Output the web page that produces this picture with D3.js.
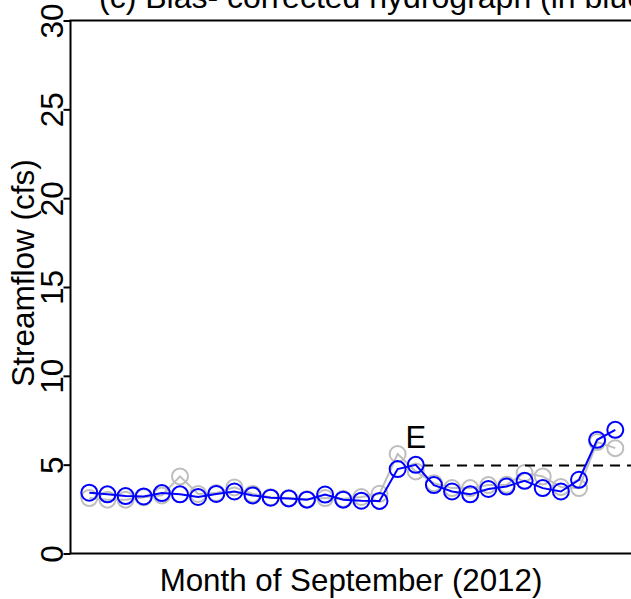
<!DOCTYPE html>
<html>
<head>
<meta charset="utf-8">
<script src="https://cdn.jsdelivr.net/npm/d3@7"></script>
<style>
  html, body { margin: 0; padding: 0; background: #fff; overflow: hidden; }
  svg { display: block; }
  text { font-family: "Liberation Sans", Arial, sans-serif; fill: #000; }
</style>
</head>
<body>
<div id="chart"></div>
<script>
// ---- data ----
const days = d3.range(1, 31);
const observed = [3.12, 3.03, 3.03, 3.16, 3.27, 4.34, 3.35, 3.40, 3.72, 3.35,
                  3.16, 3.12, 3.06, 3.12, 3.08, 3.18, 3.36, 5.60, 4.62, 3.96,
                  3.68, 3.68, 3.85, 3.87, 4.53, 4.34, 3.74, 3.68, 6.27, 5.93];
const corrected = [3.42, 3.33, 3.23, 3.21, 3.40, 3.33, 3.18, 3.35, 3.49, 3.27,
                   3.14, 3.10, 3.03, 3.32, 3.03, 2.97, 2.96, 4.75, 4.99, 3.85,
                   3.49, 3.33, 3.63, 3.77, 4.09, 3.68, 3.49, 4.15, 6.40, 6.96];
const yTicks = [0, 5, 10, 15, 20, 25, 30];
const eventLabel = "E";
const eventDay = 19;
const dashStartDay = 19.4;
const dashLevel = 4.95;
const titleText = "(c) Bias- corrected hydrograph (in blue)";
const xLabel = "Month of September (2012)";
const yLabel = "Streamflow (cfs)";

// ---- layout ----
const W = 631, H = 599;
const plotLeft = 70.5, plotTop = 20.5, plotBottom = 553.5, plotRight = 640;

const svg = d3.select("#chart").append("svg").attr("width", W).attr("height", H);

const x = d3.scaleLinear().domain([1, 30]).range([89.3, 615.3]);
const y = d3.scaleLinear().domain([0, 30]).range([plotBottom, plotTop]);

// title (clipped at top, as in the reference)
svg.append("text").attr("x", 99).attr("y", 7.5)
  .attr("font-size", 32).text(titleText);

// box (left, top, bottom)
svg.append("path")
  .attr("d", `M${plotRight},${plotTop}H${plotLeft}V${plotBottom}H${plotRight}`)
  .attr("fill", "none").attr("stroke", "#000").attr("stroke-width", 2);

// y axis ticks + labels
const yAxis = d3.axisLeft(y).tickValues(yTicks).tickSize(7).tickFormat(d3.format("d"));
const gy = svg.append("g").attr("transform", `translate(${plotLeft},0)`).call(yAxis);
gy.select(".domain").remove();
gy.selectAll(".tick line").attr("stroke", "#000").attr("stroke-width", 2);
gy.selectAll(".tick text").remove();
gy.selectAll(".tick").append("text")
  .attr("transform", "translate(-7.5,0) rotate(-90)")
  .attr("text-anchor", "middle")
  .attr("font-size", 31.5)
  .attr("fill", "#000")
  .text(d => d);

// axis titles
svg.append("text")
  .attr("transform", "translate(34,273) rotate(-90)")
  .attr("text-anchor", "middle").attr("font-size", 31.5).text(yLabel);
svg.append("text")
  .attr("x", 351).attr("y", 591)
  .attr("text-anchor", "middle").attr("font-size", 31.3).text(xLabel);

const line = d3.line().x(d => x(d[0])).y(d => y(d[1]));

// observed (gray)
const obs = days.map((d, i) => [d, observed[i]]);
svg.append("path").attr("d", line(obs))
  .attr("fill", "none").attr("stroke", "#bebebe").attr("stroke-width", 2);
svg.selectAll("circle.obs").data(obs).enter().append("circle")
  .attr("class", "obs")
  .attr("cx", d => x(d[0])).attr("cy", d => y(d[1])).attr("r", 8)
  .attr("fill", "none").attr("stroke", "#bebebe").attr("stroke-width", 2);

// dashed reference line
svg.append("line")
  .attr("x1", x(dashStartDay)).attr("x2", W)
  .attr("y1", y(dashLevel)).attr("y2", y(dashLevel))
  .attr("stroke", "#000").attr("stroke-width", 2)
  .attr("stroke-dasharray", "10,7");

// corrected (blue)
const cor = days.map((d, i) => [d, corrected[i]]);
svg.append("path").attr("d", line(cor))
  .attr("fill", "none").attr("stroke", "#0000ff").attr("stroke-width", 2);
svg.selectAll("circle.cor").data(cor).enter().append("circle")
  .attr("class", "cor")
  .attr("cx", d => x(d[0])).attr("cy", d => y(d[1])).attr("r", 8)
  .attr("fill", "none").attr("stroke", "#0000ff").attr("stroke-width", 2);

// event label
svg.append("text")
  .attr("x", x(eventDay)).attr("y", y(corrected[eventDay - 1]) - 17)
  .attr("text-anchor", "middle").attr("font-size", 31).text(eventLabel);
</script>
</body>
</html>
